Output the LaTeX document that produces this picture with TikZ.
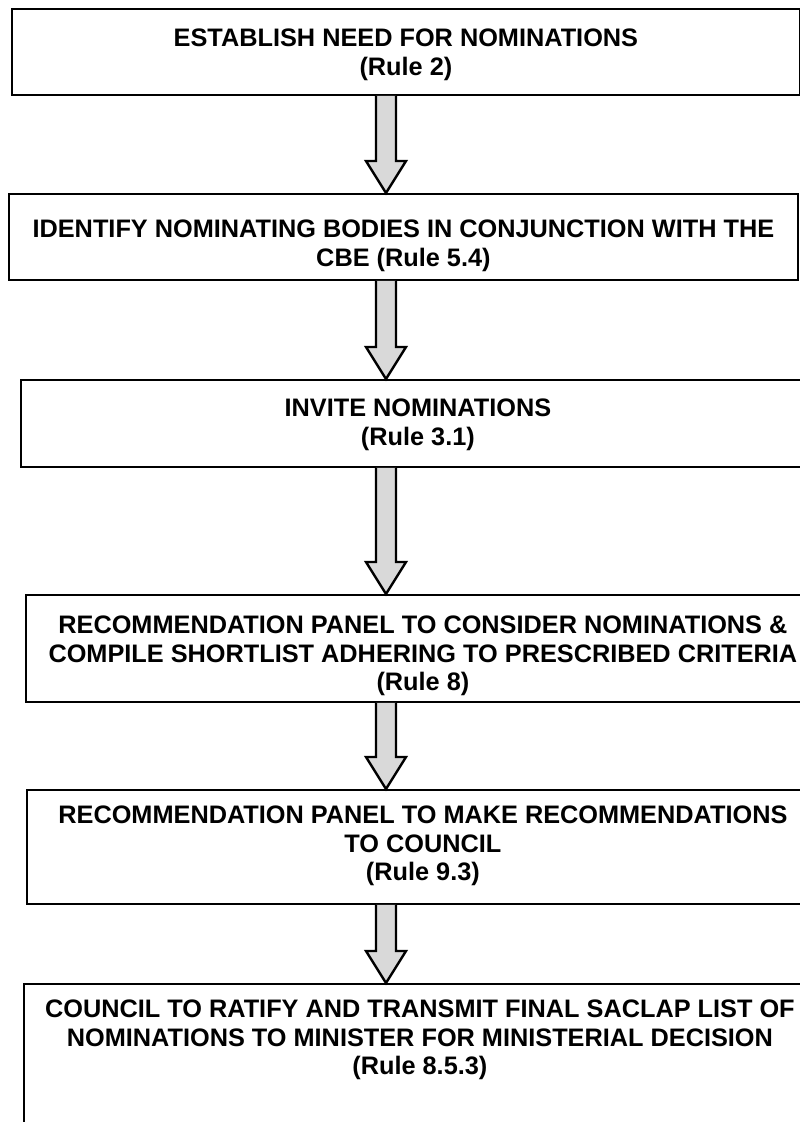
\documentclass[tikz,border=0pt]{standalone}
\usepackage{fontspec}
\setmainfont{Liberation Sans}
\usetikzlibrary{positioning,calc}
\tikzset{
  stepbox/.style={draw,line width=1.8pt,rectangle,inner sep=0pt,anchor=north west},
  steptext/.style={font=\fontsize{25.3}{28.5}\selectfont\bfseries,align=center,inner sep=0pt,anchor=north},
  fatarrow/.style={draw,line width=2.4pt,fill=gray!30,line join=miter}
}
% block arrow between two points: #1 start, #2 tip
\newcommand{\blockarrow}[2]{%
  \path let \p1=(#1), \p2=(#2) in
    [fatarrow] (\x1-10pt,\y1) -- (\x1-10pt,\y2+32pt) -- (\x1-20pt,\y2+32pt)
    -- (\x1,\y2) -- (\x1+20pt,\y2+32pt) -- (\x1+10pt,\y2+32pt) -- (\x1+10pt,\y1);}
\begin{document}
\begin{tikzpicture}[x=1pt,y=-1pt]
  \useasboundingbox (0,0) rectangle (800,1122);
  % boxes
  \node[stepbox,minimum width=788pt,minimum height=86pt] (b1) at (11,8) {};
  \node[stepbox,minimum width=789pt,minimum height=86pt] (b2) at (8,193) {};
  \node[stepbox,minimum width=794pt,minimum height=87pt] (b3) at (20,379) {};
  \node[stepbox,minimum width=794pt,minimum height=107pt] (b4) at (25,594) {};
  \node[stepbox,minimum width=792pt,minimum height=114pt] (b5) at (26,789) {};
  \node[stepbox,minimum width=792pt,minimum height=157pt] (b6) at (23,983) {};
  % texts
  \node[steptext,below=21pt of b1.north] (t1) {ESTABLISH NEED FOR NOMINATIONS\\(Rule 2)};
  \node[steptext,below=27pt of b2.north] (t2) {IDENTIFY NOMINATING BODIES IN CONJUNCTION WITH THE\\CBE (Rule 5.4)};
  \node[steptext,below=20pt of b3.north] (t3) {INVITE NOMINATIONS\\(Rule 3.1)};
  \node[steptext,below=22pt of b4.north] (t4) {RECOMMENDATION PANEL TO CONSIDER NOMINATIONS \&\\COMPILE SHORTLIST ADHERING TO PRESCRIBED CRITERIA\\(Rule 8)};
  \node[steptext,below=17pt of b5.north] (t5) {RECOMMENDATION PANEL TO MAKE RECOMMENDATIONS\\TO COUNCIL\\(Rule 9.3)};
  \node[steptext,below=17pt of b6.north] (t6) {COUNCIL TO RATIFY AND TRANSMIT FINAL SACLAP LIST OF\\NOMINATIONS TO MINISTER FOR MINISTERIAL DECISION\\(Rule 8.5.3)};
  % arrows
  \coordinate (ax) at (386,0);
  \blockarrow{ax |- b1.south}{ax |- b2.north}
  \blockarrow{ax |- b2.south}{ax |- b3.north}
  \blockarrow{ax |- b3.south}{ax |- b4.north}
  \blockarrow{ax |- b4.south}{ax |- b5.north}
  \blockarrow{ax |- b5.south}{ax |- b6.north}
\end{tikzpicture}
\end{document}
